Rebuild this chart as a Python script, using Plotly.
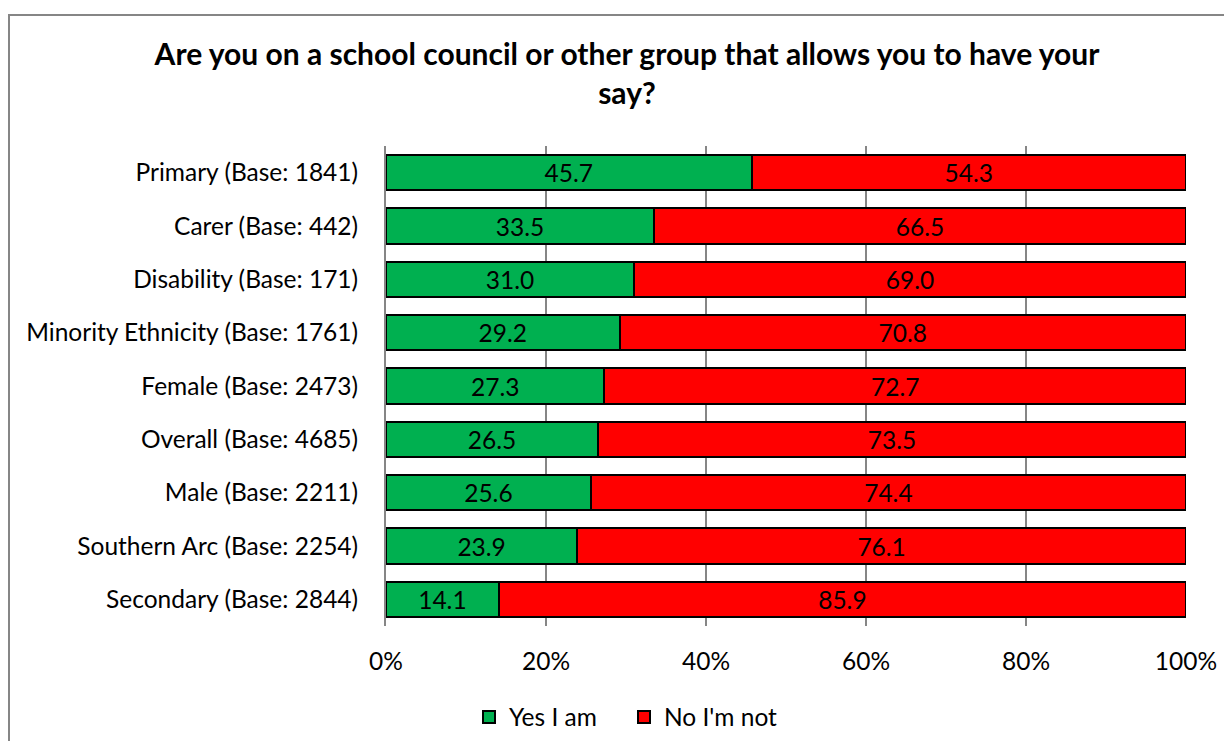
import plotly.graph_objects as go

categories = [
    "Primary (Base: 1841)",
    "Carer (Base: 442)",
    "Disability (Base: 171)",
    "Minority Ethnicity (Base: 1761)",
    "Female (Base: 2473)",
    "Overall (Base: 4685)",
    "Male (Base: 2211)",
    "Southern Arc (Base: 2254)",
    "Secondary (Base: 2844)",
]
yes_vals = [45.7, 33.5, 31.0, 29.2, 27.3, 26.5, 25.6, 23.9, 14.1]
no_vals = [54.3, 66.5, 69.0, 70.8, 72.7, 73.5, 74.4, 76.1, 85.9]
series_names = ["Yes I am", "No I'm not"]
x_ticks = [0, 20, 40, 60, 80, 100]
x_tick_labels = ["0%", "20%", "40%", "60%", "80%", "100%"]

FONT = "Lato, Calibri, Carlito, sans-serif"
FS = 24.5

fig = go.Figure()
for name, vals, color in [(series_names[0], yes_vals, "#00B050"), (series_names[1], no_vals, "#FF0000")]:
    fig.add_trace(go.Bar(
        y=categories, x=vals, name=name, orientation="h",
        marker=dict(color=color, line=dict(color="black", width=2)),
        text=[f"{v:.1f}" for v in vals], textposition="inside",
        insidetextanchor="middle", textangle=0,
        textfont=dict(color="black", size=FS, family=FONT),
        hoverinfo="skip",
    ))

# page body has an 8px margin; figure coordinates = screen - 8
OFF = 8
W, H = 1232 - 2 * OFF, 749 - 2 * OFF
L, R, T, B = 386 - OFF, 1186 - OFF, 146 - OFF, 626 - OFF
pw, ph = R - L, B - T

fig.update_layout(
    width=W, height=H,
    barmode="stack", bargap=0.334,
    margin=dict(l=L, r=W - R, t=T, b=H - B, pad=0, autoexpand=False),
    paper_bgcolor="white", plot_bgcolor="white",
    font=dict(family=FONT, size=FS, color="black"),
    title=dict(
        text="<b>Are you on a school council or other group that allows you to have your<br>say?</b>",
        x=(627 - OFF) / W, xanchor="center", y=1 - (65 - OFF) / H, yanchor="middle",
        font=dict(size=30, family=FONT, color="black"),
    ),
    xaxis=dict(
        range=[0, 100], tickvals=x_ticks, ticktext=x_tick_labels,
        showgrid=True, gridcolor="#868686", gridwidth=2,
        ticks="", zeroline=False, showline=False, fixedrange=True,
        tickfont=dict(size=FS, family=FONT), ticklabelstandoff=18,
        automargin=False,
    ),
    yaxis=dict(
        categoryorder="array", categoryarray=categories[::-1],
        showline=True, linecolor="#868686", linewidth=2,
        ticks="", showgrid=False, fixedrange=True,
        tickfont=dict(size=FS, family=FONT), ticklabelstandoff=21,
        automargin=False,
    ),
    legend=dict(
        orientation="h", xref="container", yref="container",
        x=(624 - OFF) / W, xanchor="center",
        y=1 - (717 - OFF) / H, yanchor="middle",
        font=dict(size=FS, family=FONT), traceorder="normal",
        itemwidth=30, entrywidth=110, entrywidthmode="pixels",
    ),
    showlegend=True,
    shapes=[dict(
        type="rect", xref="paper", yref="paper",
        x0=(1 - L) / pw, x1=(W + 20 - L) / pw,
        y0=(B - (H + 20)) / ph, y1=(B - (15 - OFF)) / ph,
        line=dict(color="#868686", width=2), fillcolor="rgba(0,0,0,0)",
        layer="below",
    )],
)

fig.write_html("out.html")
